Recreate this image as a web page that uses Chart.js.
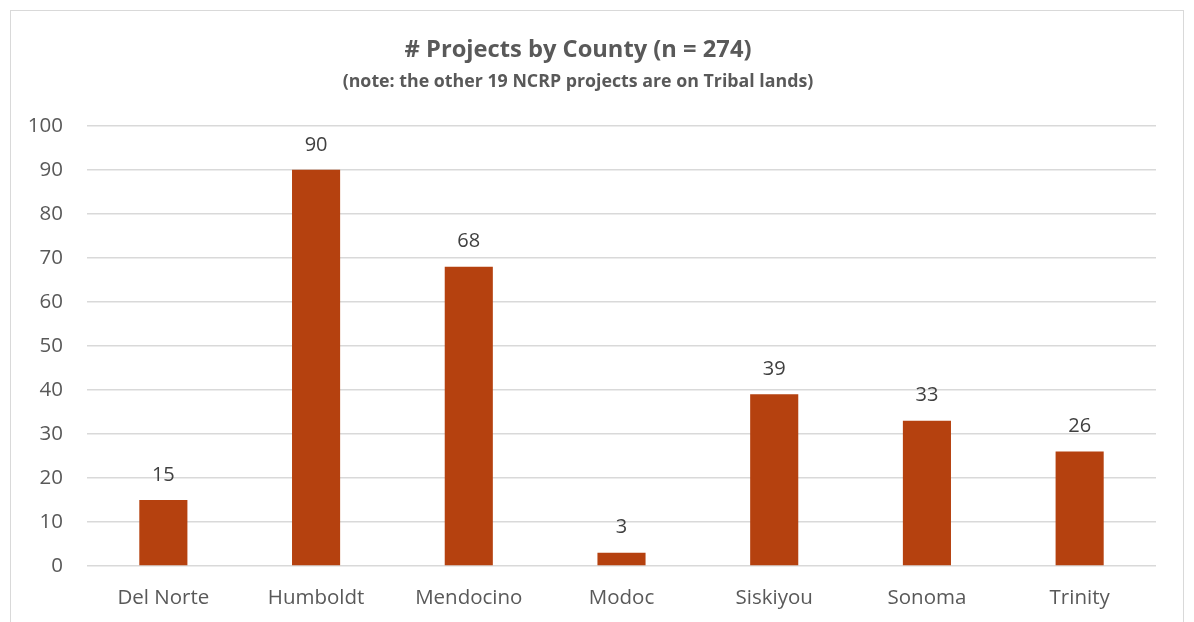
<!DOCTYPE html>
<html>
<head>
<meta charset="utf-8">
<script src="https://cdn.jsdelivr.net/npm/chart.js@4/dist/chart.umd.min.js"></script>
<style>
  html, body { margin: 0; padding: 0; background: #fff; }
  #wrap { position: absolute; left: 0; top: 0; width: 1194px; height: 622px; }
  #frame { position: absolute; left: 10px; top: 10px; width: 1174px; height: 700px; border: 1px solid #d9d9d9; box-sizing: border-box; }
  canvas { position: absolute; left: 0; top: 0; }
</style>
</head>
<body>
<div id="wrap">
  <div id="frame"></div>
  <canvas id="c" width="1194" height="622"></canvas>
</div>
<script>
const categories = ["Del Norte", "Humboldt", "Mendocino", "Modoc", "Siskiyou", "Sonoma", "Trinity"];
const projectCounts = [15, 90, 68, 3, 39, 33, 26];
const yTicks = [0, 10, 20, 30, 40, 50, 60, 70, 80, 90, 100];
const titleText = "# Projects by County (n = 274)";
const subtitleText = "(note: the other 19 NCRP projects are on Tribal lands)";

const FONT = "'Open Sans', Lato, 'Liberation Sans', sans-serif";

const dataLabels = {
  id: 'dataLabels',
  afterDatasetsDraw(chart) {
    const ctx = chart.ctx;
    const meta = chart.getDatasetMeta(0);
    ctx.save();
    ctx.fillStyle = '#404040';
    ctx.font = '20px ' + FONT;
    ctx.textAlign = 'center';
    ctx.textBaseline = 'middle';
    meta.data.forEach((bar, i) => {
      ctx.fillText(String(chart.data.datasets[0].data[i]), bar.x, bar.y - 25);
    });
    ctx.restore();
  }
};

new Chart(document.getElementById('c'), {
  type: 'bar',
  data: {
    labels: categories,
    datasets: [{
      data: projectCounts,
      backgroundColor: '#B5410F',
      borderWidth: 0,
      categoryPercentage: 1.0,
      barPercentage: 0.315
    }]
  },
  options: {
    responsive: false,
    animation: false,
    devicePixelRatio: 1,
    layout: { padding: { left: 0, right: 38, top: 0, bottom: 0 } },
    plugins: {
      legend: { display: false },
      tooltip: { enabled: false },
      title: {
        display: true,
        text: titleText,
        color: '#595959',
        font: { family: FONT, size: 23.7, weight: 'bold' },
        padding: { top: 36, bottom: 7 }
      },
      subtitle: {
        display: true,
        text: subtitleText,
        color: '#595959',
        font: { family: FONT, size: 17.8, weight: 'bold' },
        padding: { top: 0, bottom: 33 }
      }
    },
    scales: {
      x: {
        grid: { display: false, drawTicks: false },
        border: { display: false },
        ticks: { color: '#595959', font: { family: FONT, size: 20.5 }, padding: 20, maxRotation: 0 },
        afterFit(scale) { scale.height = 56; }
      },
      y: {
        min: 0, max: 100,
        afterBuildTicks(scale) { scale.ticks = yTicks.map(v => ({ value: v })); },
        grid: { color: '#d9d9d9', lineWidth: 1.5, drawTicks: false },
        border: { display: false },
        ticks: { color: '#595959', font: { family: FONT, size: 20.5 }, padding: 24 },
        afterFit(scale) { scale.width = 87; }
      }
    }
  },
  plugins: [dataLabels]
});
</script>
</body>
</html>
